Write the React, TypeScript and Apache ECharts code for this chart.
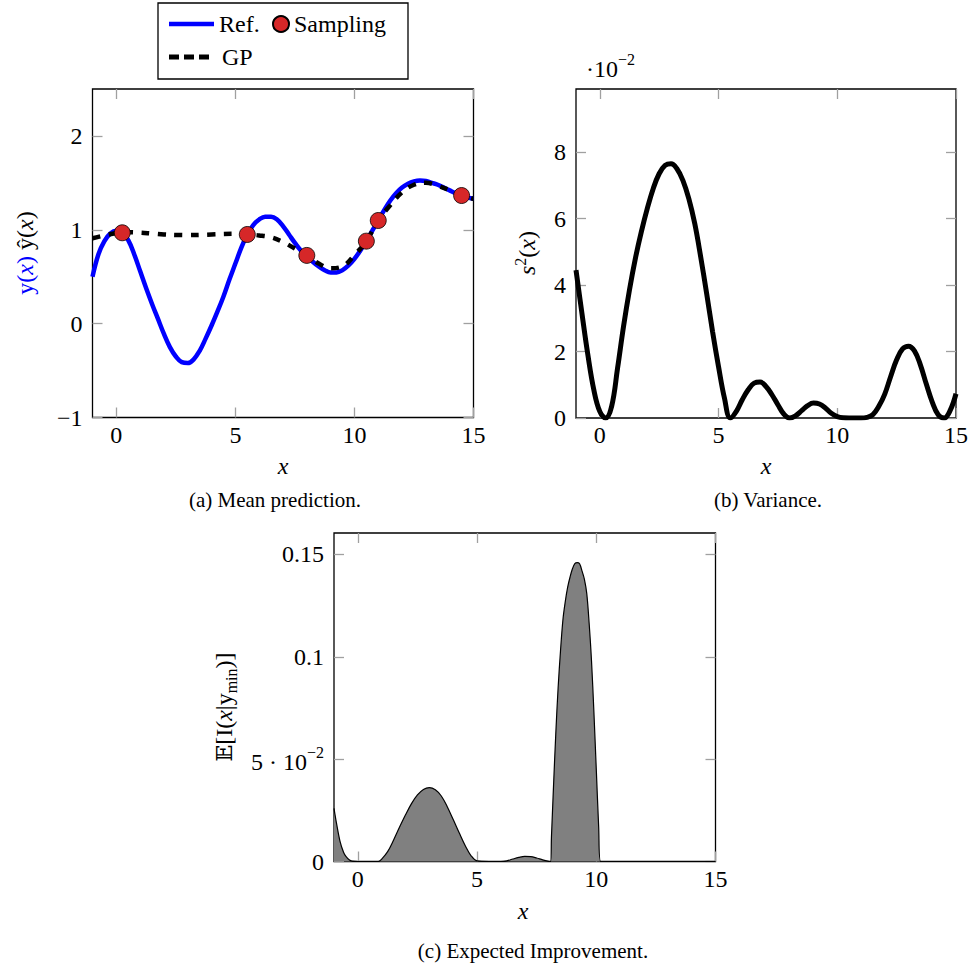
import React, { useEffect, useRef } from 'react';
import * as echarts from 'echarts';

// ---------- data ----------
const refX = [-1, -0.75, -0.5, -0.25, 0, 0.25, 0.5, 0.75, 1, 1.25, 1.5, 1.75, 2, 2.25, 2.5, 2.75, 3, 3.25, 3.5, 3.75, 4, 4.25, 4.5, 4.75, 5, 5.25, 5.5, 5.75, 6, 6.25, 6.5, 6.75, 7, 7.25, 7.5, 7.75, 8, 8.25, 8.5, 8.75, 9, 9.25, 9.5, 9.75, 10, 10.25, 10.5, 10.75, 11, 11.25, 11.5, 11.75, 12, 12.25, 12.5, 12.75, 13, 13.25, 13.5, 13.75, 14, 14.25, 14.5, 14.75, 15];
const refY = [0.5, 0.74, 0.88, 0.96, 0.99, 0.97, 0.89, 0.74, 0.56, 0.38, 0.21, 0.05, -0.11, -0.25, -0.35, -0.41, -0.42, -0.38, -0.29, -0.16, -0.02, 0.13, 0.29, 0.47, 0.64, 0.81, 0.95, 1.05, 1.11, 1.14, 1.14, 1.11, 1.04, 0.95, 0.86, 0.78, 0.72, 0.66, 0.61, 0.57, 0.545, 0.545, 0.57, 0.62, 0.69, 0.78, 0.88, 0.99, 1.1, 1.21, 1.31, 1.39, 1.45, 1.49, 1.515, 1.525, 1.52, 1.5, 1.48, 1.45, 1.42, 1.39, 1.365, 1.345, 1.33];

const gpX = [-1, -0.5, 0, 0.25, 0.5, 1, 1.5, 2, 2.5, 3, 3.5, 4, 4.5, 5, 5.5, 6, 6.5, 7, 7.5, 8, 8.5, 9, 9.5, 10, 10.5, 11, 11.5, 12, 12.5, 13, 13.5, 14, 14.5, 15];
const gpY = [0.91, 0.94, 0.965, 0.97, 0.975, 0.97, 0.96, 0.95, 0.945, 0.943, 0.945, 0.95, 0.955, 0.957, 0.95, 0.94, 0.92, 0.87, 0.8, 0.727, 0.64, 0.59, 0.61, 0.73, 0.88, 1.1, 1.26, 1.4, 1.48, 1.5, 1.47, 1.42, 1.365, 1.33];

const sampleX = [0.25, 5.5, 8.0, 10.5, 11.0, 14.5];
const sampleY = [0.968, 0.95, 0.727, 0.879, 1.099, 1.365];

// variance, in units of 1e-2
const varX = refX;
const varY = [4.45, 3.15, 1.9, 0.85, 0.2, 0, 0.35, 1.5, 2.75, 3.85, 4.8, 5.6, 6.3, 6.9, 7.35, 7.6, 7.65, 7.5, 7.15, 6.6, 5.85, 4.85, 3.75, 2.6, 1.55, 0.6, 0, 0.2, 0.55, 0.85, 1.05, 1.08, 0.95, 0.7, 0.4, 0.12, 0, 0.07, 0.22, 0.37, 0.45, 0.42, 0.3, 0.14, 0.04, 0.005, 0, 0, 0, 0.02, 0.1, 0.35, 0.72, 1.25, 1.75, 2.08, 2.16, 2.02, 1.6, 1.02, 0.48, 0.1, 0, 0.22, 0.73];

const eiX = [-1, -0.9, -0.75, -0.6, -0.5, -0.35, -0.25, 0, 0.5, 0.86, 1.0, 1.25, 1.5, 1.75, 2.0, 2.25, 2.5, 2.75, 3.0, 3.25, 3.5, 3.75, 4.0, 4.25, 4.5, 4.75, 5.0, 5.5, 6.0, 6.25, 6.5, 6.75, 7.0, 7.25, 7.5, 7.75, 8.0, 8.08, 8.12, 8.2, 8.3, 8.4, 8.5, 8.6, 8.7, 8.8, 8.9, 9.0, 9.1, 9.2, 9.3, 9.4, 9.5, 9.6, 9.7, 9.8, 9.9, 10.0, 10.1, 10.18, 10.5, 12, 15];
const eiY = [0.026, 0.019, 0.01, 0.0045, 0.0025, 0.0007, 0.0002, 0, 0, 0, 0.0012, 0.0048, 0.0105, 0.0168, 0.0228, 0.0283, 0.0325, 0.0352, 0.0361, 0.035, 0.032, 0.0268, 0.0205, 0.014, 0.0078, 0.0028, 0.0003, 0, 0, 0.0003, 0.0012, 0.002, 0.0025, 0.0024, 0.0017, 0.0008, 0.0001, 0, 0.012, 0.035, 0.062, 0.085, 0.103, 0.118, 0.127, 0.134, 0.139, 0.143, 0.1455, 0.146, 0.1455, 0.142, 0.138, 0.131, 0.1165, 0.098, 0.073, 0.045, 0.017, 0, 0, 0, 0];

const xTicks = [0, 5, 10, 15];
const yTicksA = [-1, 0, 1, 2];
const yTicksB = [0, 2, 4, 6, 8];
const yTicksC = [0, 0.05, 0.1, 0.15];

// ---------- style ----------
const SERIF = 'Liberation Serif, Times New Roman, serif';
const TICK = { inside: true, length: 10, lineStyle: { color: '#a0a0a0', width: 1.3 } };
const LBL = { fontFamily: SERIF, fontSize: 24, color: '#000', fontWeight: 'normal' };

function xAxes(grid: number) {
  const base = {
    gridIndex: grid, type: 'value', min: -1, max: 15,
    axisLine: { show: false, onZero: false }, splitLine: { show: false },
  };
  return [
    {
      ...base, position: 'bottom',
      axisTick: { ...TICK, customValues: xTicks },
      axisLabel: { ...LBL, customValues: xTicks, margin: 5 },
    },
    {
      ...base, position: 'top',
      axisTick: { ...TICK, customValues: xTicks },
      axisLabel: { show: false },
    },
  ];
}

function yAxes(grid: number, min: number, max: number, ticks: number[], fmt: (v: number) => string, rich?: any) {
  const base = {
    gridIndex: grid, type: 'value', min, max,
    axisLine: { show: false, onZero: false }, splitLine: { show: false },
  };
  return [
    {
      ...base, position: 'left',
      axisTick: { ...TICK, customValues: ticks },
      axisLabel: { ...LBL, customValues: ticks, margin: 10, formatter: fmt, rich },
    },
    {
      ...base, position: 'right',
      axisTick: { ...TICK, customValues: ticks },
      axisLabel: { show: false },
    },
  ];
}

const fmtA = (v: number) => (v < 0 ? '\u2212' + Math.abs(v) : String(v));
const fmtB = (v: number) => String(Math.round(v));
const fmtC = (v: number) => {
  if (Math.abs(v - 0.05) < 1e-9) return '{n|5 \u00b7 10}{s|\u22122}';
  if (v === 0) return '0';
  return String(Math.round(v * 100) / 100);
};

// rich styles for axis labels (ECharts uses "color")
const richSupAxis = {
  n: { fontFamily: SERIF, fontSize: 24, color: '#000', lineHeight: 30, verticalAlign: 'bottom' },
  s: { fontFamily: SERIF, fontSize: 16, color: '#000', lineHeight: 16, verticalAlign: 'top' },
};

// rich styles for graphic texts (zrender uses "fill")
function tok(extra: any) {
  return { fontFamily: SERIF, fontSize: 24, fill: '#000', lineHeight: 30, verticalAlign: 'middle', ...extra };
}
const RICH = {
  r: tok({}),
  i: tok({ fontStyle: 'italic' }),
  br: tok({ fill: '#0000ff' }),
  bi: tok({ fill: '#0000ff', fontStyle: 'italic' }),
  sup: tok({ fontSize: 16, lineHeight: 16, verticalAlign: 'top' }),
  sub: tok({ fontSize: 16, lineHeight: 16, verticalAlign: 'bottom' }),
  bb: tok({ fontFamily: 'DejaVu Serif', fontSize: 22 }),
  n: tok({ verticalAlign: 'bottom' }),
  s: tok({ fontSize: 16, lineHeight: 16, verticalAlign: 'top' }),
};

function txt(x: number, y: number, text: string, opts: any = {}) {
  return {
    type: 'text', x, y, rotation: opts.rotation || 0, z: 100,
    style: {
      text,
      fill: '#000',
      fontFamily: SERIF,
      fontSize: opts.fontSize || 24,
      fontStyle: opts.italic ? 'italic' : 'normal',
      align: opts.align || 'center',
      verticalAlign: 'middle',
      textAlign: opts.align || 'center',
      textVerticalAlign: 'middle',
      rich: opts.rich ? RICH : undefined,
    },
  };
}

const LEG_TEXT = { fontFamily: SERIF, fontSize: 24, color: '#000' };

const option: any = {
  animation: false,
  backgroundColor: '#fff',
  textStyle: { fontFamily: SERIF },
  grid: [
    { left: 92.5, top: 89, width: 381, height: 328.5, show: true, borderColor: '#000', borderWidth: 1.3, backgroundColor: 'transparent' },
    { left: 576, top: 89, width: 381, height: 329, show: true, borderColor: '#000', borderWidth: 1.3, backgroundColor: 'transparent' },
    { left: 334, top: 533, width: 381.5, height: 328.5, show: true, borderColor: '#000', borderWidth: 1.3, backgroundColor: 'transparent' },
  ],
  xAxis: [...xAxes(0), ...xAxes(1), ...xAxes(2)],
  yAxis: [
    ...yAxes(0, -1, 2.5, yTicksA, fmtA),
    ...yAxes(1, 0, 9.9, yTicksB, fmtB),
    ...yAxes(2, 0, 0.1605, yTicksC, fmtC, richSupAxis),
  ],
  legend: [
    {
      data: [{ name: 'Ref.', icon: 'rect' }], left: 169, top: 12, padding: 0, itemWidth: 45, itemHeight: 4.5, selectedMode: false,
      textStyle: LEG_TEXT,
    },
    {
      data: [{ name: 'Sampling', icon: 'circle' }], left: 272, top: 12, padding: 0, itemWidth: 16, itemHeight: 16, selectedMode: false,
      textStyle: LEG_TEXT,
    },
    {
      data: [{ name: 'GP', icon: 'path://M0,0h10v5h-10z M15,0h10v5h-10z M30,0h10v5h-10z' }],
      left: 169, top: 45, padding: 0, itemWidth: 40, itemHeight: 5, selectedMode: false,
      textStyle: { ...LEG_TEXT, padding: [0, 0, 0, 8] },
    },
  ],
  series: [
    {
      name: 'Ref.', type: 'line', xAxisIndex: 0, yAxisIndex: 0, symbol: 'none', smooth: 0.4, z: 2,
      lineStyle: { color: '#0000ff', width: 4.5 },
      itemStyle: { color: '#0000ff' },
      data: refX.map((x, i) => [x, refY[i]]),
    },
    {
      name: 'GP', type: 'line', xAxisIndex: 0, yAxisIndex: 0, symbol: 'none', smooth: 0.4, z: 3,
      lineStyle: { color: '#000', width: 4.5, type: [8, 8.5] },
      itemStyle: { color: '#000' },
      data: gpX.map((x, i) => [x, gpY[i]]),
    },
    {
      name: 'Sampling', type: 'scatter', xAxisIndex: 0, yAxisIndex: 0, symbol: 'circle', symbolSize: 16, z: 4,
      itemStyle: { color: '#d62728', borderColor: '#000', borderWidth: 0.8, opacity: 1 },
      data: sampleX.map((x, i) => [x, sampleY[i]]),
    },
    {
      type: 'line', xAxisIndex: 2, yAxisIndex: 2, symbol: 'none', smooth: 0.4, z: 2,
      lineStyle: { color: '#000', width: 5 },
      data: varX.map((x, i) => [x, varY[i]]),
    },
    {
      type: 'line', xAxisIndex: 4, yAxisIndex: 4, symbol: 'none', smooth: 0.35, z: 2,
      lineStyle: { color: '#000', width: 1.2 },
      areaStyle: { color: '#808080', opacity: 1 },
      data: eiX.map((x, i) => [x, eiY[i]]),
    },
  ],
  graphic: [
    {
      type: 'rect', z: 100,
      shape: { x: 158, y: 3, width: 250, height: 76 },
      style: { fill: 'none', stroke: '#000', lineWidth: 1.3 },
    },
    txt(25, 253, '{br|y(}{bi|x}{br|)} {r|\u0177(}{i|x}{r|)}', { rotation: Math.PI / 2, rich: true }),
    txt(527, 253, '{i|s}{sup|2}{r|(}{i|x}{r|)}', { rotation: Math.PI / 2, rich: true }),
    txt(224, 707, '{bb|\ud835\udd3c}{r|[I(}{i|x}{r||y}{sub|min}{r|)]}', { rotation: Math.PI / 2, rich: true }),
    txt(586, 66, '{n|\u00b710}{s|\u22122}', { align: 'left', rich: true }),
    txt(283, 466, 'x', { italic: true }),
    txt(766, 466, 'x', { italic: true }),
    txt(523, 911, 'x', { italic: true }),
    txt(275, 500, '(a) Mean prediction.', { fontSize: 21 }),
    txt(768, 500, '(b) Variance.', { fontSize: 21 }),
    txt(533, 951, '(c) Expected Improvement.', { fontSize: 21 }),
  ],
};

export default function App() {
  const ref = useRef<HTMLDivElement>(null);
  useEffect(() => {
    const chart = echarts.init(ref.current!, null, { renderer: 'svg' });
    chart.setOption(option);
    return () => chart.dispose();
  }, []);
  return (
    <div
      ref={ref}
      style={{ position: 'absolute', left: 0, top: 0, width: 971, height: 977, background: '#fff' }}
    />
  );
}
